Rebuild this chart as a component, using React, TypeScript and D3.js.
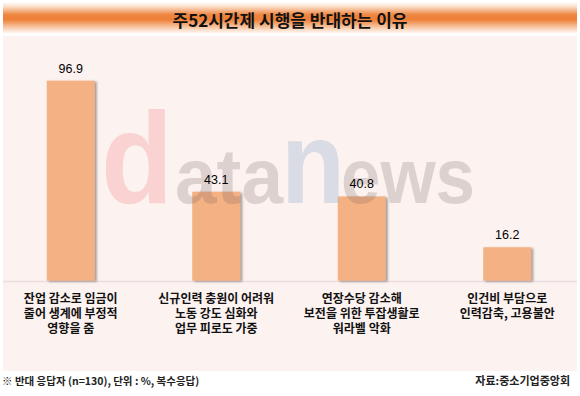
import React from 'react';
import * as d3 from 'd3';

// chart data
const reasons = [
    ['잔업 감소로 임금이', '줄어 생계에 부정적', '영향을 줌'],
    ['신규인력 충원이 어려워', '노동 강도 심화와', '업무 피로도 가중'],
    ['연장수당 감소해', '보전을 위한 투잡생활로', '워라벨 악화'],
    ['인건비 부담으로', '인력감축, 고용불안']
];
const keys = ['r1', 'r2', 'r3', 'r4'];
const values = [96.9, 43.1, 40.8, 16.2];

const title = '주52시간제 시행을 반대하는 이유';
const note = '※ 반대 응답자 (n=130), 단위 : %, 복수응답)';
const source = '자료:중소기업중앙회';

// watermark pieces: text, left x, width, font size, colour, opacity
const mark = [
    ['d', 101, 72, 130, '#f08080', 0.28],
    ['ata', 175, 108, 78, '#6e5c5c', 0.22],
    ['n', 281, 64, 117, '#7fa6c8', 0.28],
    ['ews', 341, 134, 78, '#6e5c5c', 0.22]
];

const W = 580, H = 396;
const baseY = 280.7;
const korFont = '"Noto Sans CJK KR", "Noto Sans", sans-serif';
const latFont = '"Liberation Sans", Arial, sans-serif';

const App = () => {

    // scales
    let x = d3.scalePoint().domain(keys).range([-2, 580]).padding(0.5);
    let y = d3.scaleLinear().domain([0, 100]).range([baseY, 74.3]);
    const barW = 48;

    return (
        <svg width={W} height={H} style={{position: 'absolute', left: 0, top: 0, background: '#fff'}}>
            <defs>
                <linearGradient id="band" x1="0" y1="0" x2="0" y2="1">
                    <stop offset="0%" stopColor="#ffffff" />
                    <stop offset="15%" stopColor="#fbdcc6" />
                    <stop offset="40%" stopColor="#ee8640" />
                    <stop offset="55%" stopColor="#ee8039" />
                    <stop offset="80%" stopColor="#f8caa9" />
                    <stop offset="100%" stopColor="#ffffff" />
                </linearGradient>
                <filter id="shadow" x="-20%" y="-20%" width="150%" height="140%">
                    <feDropShadow dx="2" dy="1" stdDeviation="1" floodColor="#555" floodOpacity="0.55" />
                </filter>
            </defs>

            {/* title band */}
            <rect x={3} y={2} width={574} height={32} fill="url(#band)" />
            <text x={290} y={27} textAnchor="middle" fontFamily={korFont} fontWeight="bold" fontSize={17} fill="#111">
                {title}
            </text>

            {/* plot panel */}
            <rect x={3} y={36} width={574} height={335} fill="#fcf2f0" />
            <line x1={3} x2={577} y1={baseY + 0.8} y2={baseY + 0.8} stroke="#eadfdf" strokeWidth={1.6} />

            {/* bars */}
            {values.map((v, i) => (
                <rect key={'b' + i} x={x(keys[i]) - barW / 2} y={y(v)} width={barW} height={baseY - y(v)}
                      fill="#f4b183" filter="url(#shadow)" />
            ))}

            {/* watermark, drawn over the bars */}
            {mark.map((m, i) => (
                <text key={'w' + i} x={m[1]} y={203} textLength={m[2]} lengthAdjust="spacingAndGlyphs"
                      fontFamily={latFont} fontWeight="bold" fontSize={m[3]} fill={m[4]} fillOpacity={m[5]}>
                    {m[0]}
                </text>
            ))}

            {/* value labels */}
            {values.map((v, i) => (
                <text key={'v' + i} x={x(keys[i])} y={y(v) - 8} textAnchor="middle"
                      fontFamily={latFont} fontSize={12.5} fill="#000">
                    {v.toFixed(1)}
                </text>
            ))}

            {/* category labels */}
            {reasons.map((lines, i) => (
                <text key={'c' + i} textAnchor="middle" fontFamily={korFont} fontWeight={600} fontSize={12} fill="#111">
                    {lines.map((l, j) => (
                        <tspan key={j} x={x(keys[i])} y={303 + j * 15}>{l}</tspan>
                    ))}
                </text>
            ))}

            {/* footnotes */}
            <text x={2} y={385} fontFamily={korFont} fontWeight="bold" fontSize={10.5} fill="#222">{note}</text>
            <text x={570} y={385} textAnchor="end" fontFamily={korFont} fontWeight="bold" fontSize={11} fill="#222">{source}</text>
        </svg>
    );
}

export default App;
